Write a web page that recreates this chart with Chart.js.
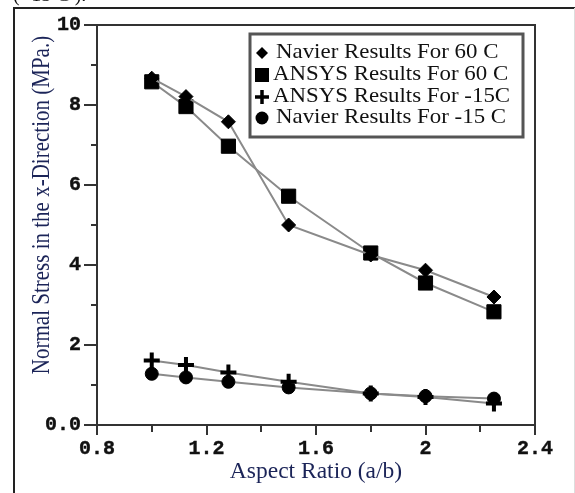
<!DOCTYPE html>
<html>
<head>
<meta charset="utf-8">
<script src="https://cdn.jsdelivr.net/npm/chart.js@4/dist/chart.umd.min.js"></script>
<style>
  html, body { margin: 0; padding: 0; background: #fff; }
  #wrap { width: 575px; height: 493px; position: relative; }
</style>
</head>
<body>
<div id="wrap"><canvas id="stressChart" width="575" height="493"></canvas></div>
<script>
    // aspect ratios (a/b)
    const ratios = [1.0, 1.125, 1.28, 1.5, 1.8, 2.0, 2.25];

    const navier60 = [8.67, 8.21, 7.58, 5.0, 4.25, 3.87, 3.2];
    const ansys60 = [8.58, 7.96, 6.97, 5.72, 4.3, 3.55, 2.83];
    const ansysMinus15 = [1.61, 1.5, 1.31, 1.08, 0.79, 0.7, 0.54];
    const navierMinus15 = [1.28, 1.19, 1.08, 0.94, 0.79, 0.72, 0.66];

    const seriesLabels = [
      'Navier Results For 60 C',
      'ANSYS Results For 60 C',
      'ANSYS Results For -15C',
      'Navier Results For -15 C'
    ];

    const xTickLabels = { 8: '0.8', 12: '1.2', 16: '1.6', 20: '2', 24: '2.4' };
    const yTickLabels = { 0: '0.0', 2: '2', 4: '4', 6: '6', 8: '8', 10: '10' };

    const serif = '"Liberation Serif", "Times New Roman", serif';
    const mono = '"Liberation Mono", "Courier New", monospace';
    const titleColor = '#1b2458';

    function toPoints(values) {
      return values.map((v, i) => ({ x: ratios[i], y: v }));
    }

    const markers = [
      { style: 'rectRot', radius: 7, border: 1 },
      { style: 'rect', radius: 10, border: 1 },
      { style: 'cross', radius: 8, border: 4 },
      { style: 'circle', radius: 6.5, border: 1 }
    ];

    const allSeries = [navier60, ansys60, ansysMinus15, navierMinus15];

    const datasets = allSeries.map((values, i) => ({
      label: seriesLabels[i],
      data: toPoints(values),
      borderColor: '#8a8a8a',
      borderWidth: 2,
      pointStyle: markers[i].style,
      pointRadius: markers[i].radius,
      pointHoverRadius: markers[i].radius,
      pointBorderWidth: markers[i].border,
      pointBackgroundColor: '#000',
      pointBorderColor: '#000',
      tension: 0
    }));

    function drawMarker(ctx, style, x, y, r) {
      ctx.save();
      ctx.fillStyle = '#000';
      ctx.strokeStyle = '#000';
      ctx.beginPath();
      if (style === 'rectRot') {
        ctx.moveTo(x, y - r); ctx.lineTo(x + r, y); ctx.lineTo(x, y + r); ctx.lineTo(x - r, y);
        ctx.closePath(); ctx.fill();
      } else if (style === 'rect') {
        ctx.rect(x - r, y - r, 2 * r, 2 * r); ctx.fill();
      } else if (style === 'cross') {
        ctx.lineWidth = 3.5;
        ctx.moveTo(x - r, y); ctx.lineTo(x + r, y);
        ctx.moveTo(x, y - r); ctx.lineTo(x, y + r);
        ctx.stroke();
      } else {
        ctx.arc(x, y, r, 0, Math.PI * 2); ctx.fill();
      }
      ctx.restore();
    }

    const decorations = {
      id: 'decorations',
      afterDraw(chart) {
        const ctx = chart.ctx;
        const area = chart.chartArea;
        ctx.save();

        // outer figure frame
        ctx.strokeStyle = '#222';
        ctx.lineWidth = 2;
        ctx.beginPath();
        ctx.moveTo(14, 493); ctx.lineTo(14, 8); ctx.lineTo(575, 8);
        ctx.stroke();
        ctx.strokeStyle = '#ddd';
        ctx.lineWidth = 1;
        ctx.beginPath();
        ctx.moveTo(574.5, 8); ctx.lineTo(574.5, 493);
        ctx.stroke();

        // caption cut off at the top
        ctx.fillStyle = '#111';
        ctx.font = '20px ' + serif;
        ctx.textAlign = 'left';
        ctx.textBaseline = 'alphabetic';
        ctx.fillText('( -15 C ).', 13, 1);

        // plot frame top and right
        ctx.strokeStyle = '#333';
        ctx.lineWidth = 2;
        ctx.beginPath();
        ctx.moveTo(area.left, area.top); ctx.lineTo(area.right, area.top); ctx.lineTo(area.right, area.bottom);
        ctx.stroke();

        // y axis title (glyphs look stretched sideways in the source)
        ctx.save();
        ctx.translate(42, 205);
        ctx.rotate(-Math.PI / 2);
        ctx.scale(1, 1.2);
        ctx.fillStyle = titleColor;
        ctx.font = '21px ' + serif;
        ctx.textAlign = 'center';
        ctx.textBaseline = 'middle';
        ctx.fillText('Normal Stress in the x-Direction (MPa.)', 0, 0);
        ctx.restore();

        // x axis title
        ctx.fillStyle = titleColor;
        ctx.font = '23.5px ' + serif;
        ctx.textAlign = 'center';
        ctx.textBaseline = 'middle';
        ctx.fillText('Aspect Ratio (a/b)', 316, 472);

        // legend box
        ctx.fillStyle = '#fff';
        ctx.fillRect(250, 34, 273, 103);
        ctx.strokeStyle = '#555';
        ctx.lineWidth = 3;
        ctx.strokeRect(250, 34, 273, 103);

        ctx.font = '22px ' + serif;
        ctx.textAlign = 'left';
        ctx.textBaseline = 'middle';
        ctx.fillStyle = '#111';
        const rows = [52, 74, 96, 117];
        const legendSizes = [6, 7, 7, 6.5];
        const textX = [276, 273, 273, 276];
        seriesLabels.forEach((label, i) => {
          drawMarker(ctx, markers[i].style, 262, rows[i] + 1, legendSizes[i]);
          ctx.save();
          ctx.translate(textX[i], rows[i]);
          ctx.scale(1.04, 1);
          ctx.fillText(label, 0, 0);
          ctx.restore();
        });

        ctx.restore();
      }
    };

    const ctx = document.getElementById('stressChart').getContext('2d');
    const chart = new Chart(ctx, {
      type: 'line',
      data: { datasets: datasets },
      plugins: [decorations],
      options: {
        responsive: false,
        animation: false,
        layout: { padding: { left: 0, top: 25, right: 40, bottom: 0 } },
        plugins: {
          legend: { display: false },
          tooltip: { enabled: false }
        },
        scales: {
          x: {
            type: 'linear',
            min: 0.8,
            max: 2.4,
            afterFit: (scale) => { scale.height = 68; },
            ticks: {
              stepSize: 0.2,
              autoSkip: false,
              maxRotation: 0,
              padding: 2,
              color: '#111',
              textStrokeColor: '#111',
              textStrokeWidth: 0.4,
              font: { family: mono, size: 20, weight: 'bold' },
              callback: (v) => xTickLabels[Math.round(v * 10)] || ''
            },
            grid: {
              drawOnChartArea: false,
              tickLength: 10,
              color: '#333',
              lineWidth: 2,
              tickBorderDash: (c) => (Math.round(c.tick.value * 10) % 4 === 0 ? [] : [6, 20])
            },
            border: { color: '#333', width: 2 }
          },
          y: {
            min: 0,
            max: 10,
            afterFit: (scale) => { scale.width = 97; },
            ticks: {
              stepSize: 1,
              autoSkip: false,
              padding: 3,
              color: '#111',
              textStrokeColor: '#111',
              textStrokeWidth: 0.4,
              font: { family: mono, size: 20, weight: 'bold' },
              callback: (v) => yTickLabels[v] || ''
            },
            grid: {
              drawOnChartArea: false,
              tickLength: 13,
              color: '#333',
              lineWidth: 2,
              tickBorderDash: (c) => (c.tick.value % 2 === 0 ? [] : [0, 7, 6, 0])
            },
            border: { color: '#333', width: 2 }
          }
        }
      }
    });
</script>
</body>
</html>
